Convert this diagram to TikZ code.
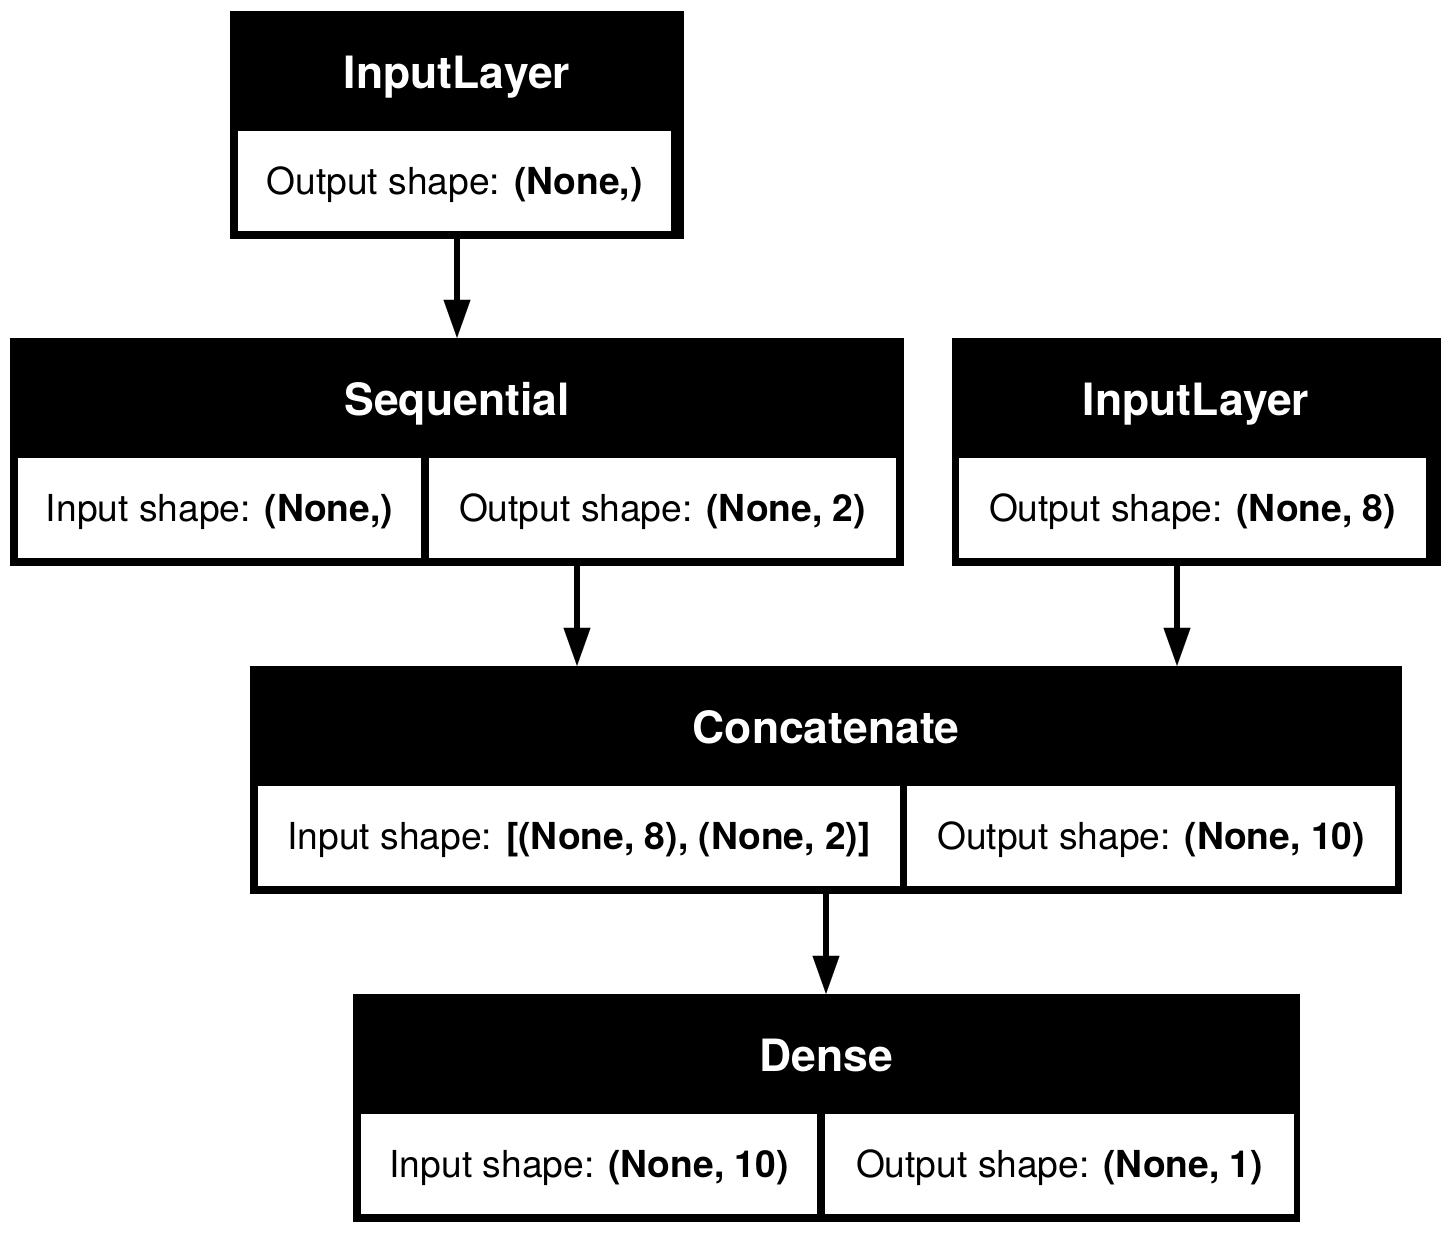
\documentclass[tikz,border=0pt]{standalone}
\usepackage{fontspec}
\setmainfont{TeX Gyre Heros}
\usetikzlibrary{arrows.meta}
\begin{document}
\begin{tikzpicture}[x=1pt,y=-1pt,
  outerbox/.style={fill=black,draw=none,inner sep=0pt,minimum height=228pt},
  cellbox/.style={fill=white,draw=none,inner sep=0pt,minimum height=100pt},
  titletext/.style={anchor=base,text=white,inner sep=0pt,font=\fontsize{44.5}{48}\selectfont\bfseries},
  celltext/.style={anchor=base,text=black,inner sep=0pt,font=\fontsize{37.2}{42}\selectfont},
  conn/.style={line width=5.5pt,-{Triangle[length=38pt,width=27pt,line width=0.1pt]}}
]
\useasboundingbox[fill=white] (0,0) rectangle (1450,1233);

% --- top InputLayer
\node[outerbox,minimum width=454pt] (inA) at (457,125) {};
\node[titletext] (inAt) at (457,88.5) {InputLayer};
\node[cellbox,minimum width=433pt] (inAc) at (454.5,181) {};
\node[celltext] (inAx) at (454.5,194.5) {Output shape: \textbf{(None,)}};

% --- Sequential
\node[outerbox,minimum width=894pt] (seq) at (457,452) {};
\node[titletext] (seqt) at (457,415.5) {Sequential};
\node[cellbox,minimum width=403pt] (seqc1) at (219.5,508) {};
\node[celltext] (seqx1) at (219.5,521.5) {Input shape: \textbf{(None,)}};
\node[cellbox,minimum width=467pt] (seqc2) at (662.5,508) {};
\node[celltext] (seqx2) at (662.5,521.5) {Output shape: \textbf{(None, 2)}};

% --- right InputLayer
\node[outerbox,minimum width=489pt] (inB) at (1196.5,452) {};
\node[titletext] (inBt) at (1196,415.5) {InputLayer};
\node[cellbox,minimum width=467pt] (inBc) at (1192.5,508) {};
\node[celltext] (inBx) at (1192.5,521.5) {Output shape: \textbf{(None, 8)}};

% --- Concatenate
\node[outerbox,minimum width=1152pt] (cat) at (826,780) {};
\node[titletext] (catt) at (826,743.5) {Concatenate};
\node[cellbox,minimum width=642pt] (catc1) at (579,836) {};
\node[celltext] (catx1) at (579,849.5) {Input shape: \textbf{[(None, 8), (None, 2)]}};
\node[cellbox,minimum width=488pt] (catc2) at (1151,836) {};
\node[celltext] (catx2) at (1151,849.5) {Output shape: \textbf{(None, 10)}};

% --- Dense
\node[outerbox,minimum width=947pt] (den) at (826.5,1108) {};
\node[titletext] (dent) at (826,1071.5) {Dense};
\node[cellbox,minimum width=456pt] (denc1) at (589,1164) {};
\node[celltext] (denx1) at (589,1177.5) {Input shape: \textbf{(None, 10)}};
\node[cellbox,minimum width=469pt] (denc2) at (1059.5,1164) {};
\node[celltext] (denx2) at (1059.5,1177.5) {Output shape: \textbf{(None, 1)}};

% --- connectors
\coordinate (xA) at (457,0);
\coordinate (xB) at (577,0);
\coordinate (xC) at (1177,0);
\coordinate (xD) at (826,0);
\draw[conn] (inA.south -| xA) -- (seq.north -| xA);
\draw[conn] (seq.south -| xB) -- (cat.north -| xB);
\draw[conn] (inB.south -| xC) -- (cat.north -| xC);
\draw[conn] (cat.south -| xD) -- (den.north -| xD);
\end{tikzpicture}
\end{document}
